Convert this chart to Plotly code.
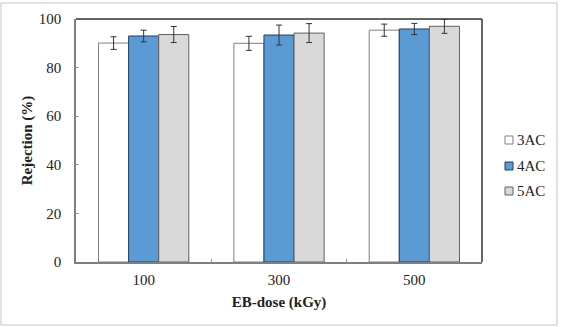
import plotly.graph_objects as go

doses = ["100", "300", "500"]
series_names = ["3AC", "4AC", "5AC"]
values_3ac = [90.1, 90.0, 95.4]
values_4ac = [93.0, 93.4, 95.9]
values_5ac = [93.6, 94.2, 97.0]
err_3ac = [2.6, 2.9, 2.5]
err_4ac = [2.4, 4.1, 2.3]
err_5ac = [3.3, 3.9, 2.9]
y_ticks = [0, 20, 40, 60, 80, 100]

fills = ["#FFFFFF", "#5B9BD5", "#D9D9D9"]
outlines = ["#7F7F7F", "#1F3F66", "#606060"]

font_family = "Liberation Serif"
fig = go.Figure()
for name, vals, errs, fc, lc in zip(series_names, [values_3ac, values_4ac, values_5ac],
                                    [err_3ac, err_4ac, err_5ac], fills, outlines):
    fig.add_trace(go.Bar(
        x=doses, y=vals, name=name, showlegend=False,
        marker=dict(color=fc, line=dict(color=lc, width=1)),
        error_y=dict(type="data", array=errs, visible=True, color="#333333", thickness=1, width=3),
    ))

# plot area geometry (pixels) for paper-coordinate legend/frame placement
L, R, T, B = 76, 79, 19, 65
W, H = 561 - L - R, 327 - T - B

def px_x(p):
    return (p - L) / W

def px_y(p):
    return (327 - B - p) / H

shapes = [
    dict(type="rect", xref="paper", yref="paper", x0=px_x(1), x1=px_x(557), y0=px_y(325), y1=px_y(3),
         line=dict(color="#D9D9D9", width=1.5), fillcolor="rgba(0,0,0,0)", layer="below"),
    dict(type="line", xref="paper", yref="paper", x0=0, x1=1, y0=1, y1=1, line=dict(color="#333333", width=1.5)),
    dict(type="line", xref="paper", yref="paper", x0=1, x1=1, y0=0, y1=1, line=dict(color="#333333", width=1.5)),
]
annotations = []
legend_rows = [140, 166, 191]
for name, fc, lc, ry in zip(series_names, fills, outlines, legend_rows):
    shapes.append(dict(type="rect", xref="paper", yref="paper", x0=px_x(505), x1=px_x(513),
                       y0=px_y(ry + 4), y1=px_y(ry - 4), line=dict(color=lc, width=1), fillcolor=fc))
    annotations.append(dict(xref="paper", yref="paper", x=px_x(515), y=px_y(ry), text=name,
                            showarrow=False, xanchor="left", yanchor="middle",
                            font=dict(family=font_family, size=15, color="#222222")))

fig.update_layout(
    width=561, height=327,
    margin=dict(l=L, r=R, t=T, b=B),
    paper_bgcolor="white", plot_bgcolor="white",
    barmode="group", bargap=0.333, bargroupgap=0,
    font=dict(family=font_family, size=15, color="#222222"),
    showlegend=False,
    xaxis=dict(
        title=dict(text="<b>EB-dose (kGy)</b>", font=dict(family=font_family, size=15), standoff=10),
        showline=True, linecolor="#7F7F7F", linewidth=1.5, mirror=False,
        ticks="inside", tickson="boundaries", ticklen=3, tickcolor="#999999",
        showgrid=False, tickfont=dict(size=15), ticklabelstandoff=3,
    ),
    yaxis=dict(
        title=dict(text="<b>Rejection (%)</b>", font=dict(family=font_family, size=15), standoff=3),
        range=[0, 100], tickvals=y_ticks, showline=True, linecolor="#7F7F7F", linewidth=1.5, mirror=False,
        ticks="inside", ticklen=3, tickcolor="#999999", showgrid=False, tickfont=dict(size=15),
        ticklabelstandoff=10,
    ),
    shapes=shapes,
    annotations=annotations,
)

fig.write_html("out.html")
